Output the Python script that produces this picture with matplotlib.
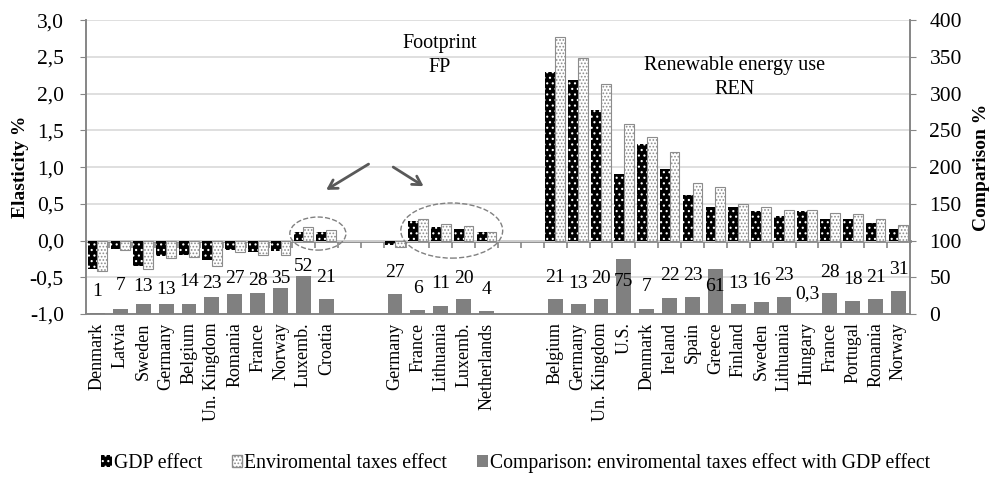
import matplotlib.pyplot as plt
from matplotlib.patches import Ellipse, Patch
from matplotlib.ticker import FuncFormatter, FixedLocator

plt.rcParams['font.family'] = ['Liberation Serif', 'DejaVu Serif']
plt.rcParams['hatch.linewidth'] = 0.8

# groups of countries (two empty slots between groups)
fp_neg = ['Denmark', 'Latvia', 'Sweden', 'Germany', 'Belgium', 'Un. Kingdom',
          'Romania', 'France', 'Norway', 'Luxemb.', 'Croatia']
fp_pos = ['Germany', 'France', 'Lithuania', 'Luxemb.', 'Netherlands']
ren = ['Belgium', 'Germany', 'Un. Kingdom', 'U.S.', 'Denmark', 'Ireland', 'Spain',
       'Greece', 'Finland', 'Sweden', 'Lithuania', 'Hungary', 'France', 'Portugal',
       'Romania', 'Norway']

gdp_fp_neg = [-0.39, -0.11, -0.34, -0.21, -0.19, -0.27, -0.13, -0.15, -0.14, 0.12, 0.11]
env_fp_neg = [-0.41, -0.13, -0.39, -0.24, -0.22, -0.34, -0.16, -0.19, -0.19, 0.18, 0.15]
cmp_fp_neg = [1, 7, 13, 13, 14, 23, 27, 28, 35, 52, 21]

gdp_fp_pos = [-0.06, 0.26, 0.19, 0.16, 0.11]
env_fp_pos = [-0.09, 0.29, 0.22, 0.20, 0.12]
cmp_fp_pos = [27, 6, 11, 20, 4]

gdp_ren = [2.30, 2.18, 1.78, 0.91, 1.31, 0.97, 0.62, 0.45, 0.45, 0.40, 0.34, 0.40,
           0.29, 0.30, 0.24, 0.16]
env_ren = [2.77, 2.48, 2.13, 1.59, 1.41, 1.20, 0.78, 0.73, 0.50, 0.46, 0.42, 0.41,
           0.37, 0.36, 0.29, 0.21]
cmp_ren = [21, 13, 20, 75, 7, 22, 23, 61, 13, 16, 23, 0.3, 28, 18, 21, 31]

# label heights (right axis units) as placed in the original
lab_fp_neg = [30, 39, 37, 33, 44, 42, 49, 46, 48, 65, 50]
lab_fp_pos = [56, 35, 41, 49, 33]
lab_ren = [50, 42, 49, 44, 37, 53, 53, 37, 42, 45, 53, 28, 57, 47, 50, 61]

names = fp_neg + fp_pos + ren
gdp = gdp_fp_neg + gdp_fp_pos + gdp_ren
env = env_fp_neg + env_fp_pos + env_ren
cmp_ = cmp_fp_neg + cmp_fp_pos + cmp_ren
lab_y = lab_fp_neg + lab_fp_pos + lab_ren
x = (list(range(len(fp_neg)))
     + [len(fp_neg) + 2 + i for i in range(len(fp_pos))]
     + [len(fp_neg) + len(fp_pos) + 4 + i for i in range(len(ren))])
nslots = len(fp_neg) + len(fp_pos) + len(ren) + 4

fig = plt.figure(figsize=(9.91, 4.78), dpi=100)
ax = fig.add_axes([0.0868, 0.343, 0.8314, 0.615])
ax2 = ax.twinx()

grid_c = '#d9d9d9'
axis_c = '#868686'

w = 0.43
ax.bar([i - w / 2 for i in x], gdp, w, facecolor='black', edgecolor='white',
       hatch='...', linewidth=0, zorder=3)
ax.bar([i + w / 2 for i in x], env, w, facecolor='white', edgecolor='#8c8c8c',
       hatch='.....', linewidth=0.8, zorder=3)
ax2.bar(x, cmp_, 0.65, color='#808080', zorder=3)

for xi, v, ly in zip(x, cmp_, lab_y):
    s = ('%g' % v).replace('.', ',')
    ax2.text(xi, ly, s, ha='center', va='center', fontsize=14)

ax.set_xlim(-0.5, nslots - 0.5)
ax.set_ylim(-1.0, 3.0)
ax2.set_ylim(0, 400)
ax.set_yticks([i * 0.5 for i in range(-2, 7)])
ax2.set_yticks(range(0, 401, 50))
ax.yaxis.set_major_formatter(FuncFormatter(lambda v, p: ('%.1f' % v).replace('.', ',')))
ax.yaxis.grid(True, color=grid_c, linewidth=1.2)
ax.set_axisbelow(True)

ax.set_xticks(x)
ax.set_xticklabels(names, rotation=90, fontsize=13)
ax.tick_params(axis='x', length=0, pad=6)
ax.tick_params(axis='y', labelsize=15.5, color=axis_c, length=4, pad=12)
ax2.tick_params(axis='y', labelsize=15.5, color=axis_c, length=4, pad=10)

for a in (ax, ax2):
    a.spines['top'].set_visible(False)
    for s in ('left', 'right', 'bottom'):
        a.spines[s].set_color(axis_c)
        a.spines[s].set_linewidth(1.2)

# category axis crossing at zero with ticks between categories
sec = ax.secondary_xaxis(0.25)
sec.xaxis.set_major_locator(FixedLocator([k - 0.5 for k in range(nslots + 1)]))
sec.tick_params(axis='x', direction='out', length=5, color=axis_c, width=1.2,
                labelbottom=False)
sec.spines['bottom'].set_color(axis_c)
sec.spines['bottom'].set_linewidth(2)

ax.set_ylabel('Elasticity %', fontsize=14, fontweight='bold')
ax2.set_ylabel('Comparison %', fontsize=14, fontweight='bold')
ax.yaxis.set_label_coords(-0.069, 0.5)
ax2.yaxis.set_label_coords(1.077, 0.5)

# annotations
ax.text(14.96, 2.52, 'Footprint\nFP', ha='center', va='center', fontsize=14.5,
        linespacing=1.4)
ax.text(27.84, 2.22, 'Renewable energy use\nREN', ha='center', va='center',
        fontsize=14.5, linespacing=1.4)
arrow = dict(arrowstyle='->, head_length=0.6, head_width=0.35', color='#595959',
             linewidth=2)
ax.annotate('', xy=(9.89, 0.67), xytext=(11.95, 1.06), arrowprops=arrow)
ax.annotate('', xy=(14.35, 0.72), xytext=(12.82, 1.02), arrowprops=arrow)
ax.add_patch(Ellipse((9.63, 0.095), 2.45, 0.45, fill=False, linestyle='--',
                     edgecolor='#808080', linewidth=1, zorder=4))
ax.add_patch(Ellipse((15.48, 0.136), 4.45, 0.75, fill=False, linestyle='--',
                     edgecolor='#808080', linewidth=1, zorder=4))

handles = [Patch(facecolor='black', edgecolor='white', hatch='...', linewidth=0),
           Patch(facecolor='white', edgecolor='#8c8c8c', hatch='.....'),
           Patch(facecolor='#808080')]
labels = ['GDP effect', 'Enviromental taxes effect',
          'Comparison: enviromental taxes effect with GDP effect']
fig.legend(handles, labels, loc='center', bbox_to_anchor=(0.52, 0.031), ncol=3,
           frameon=False, fontsize=14.2, handlelength=0.55, handleheight=0.55,
           handletextpad=0.1, columnspacing=1.5)

fig.savefig('out.png', dpi=100)
